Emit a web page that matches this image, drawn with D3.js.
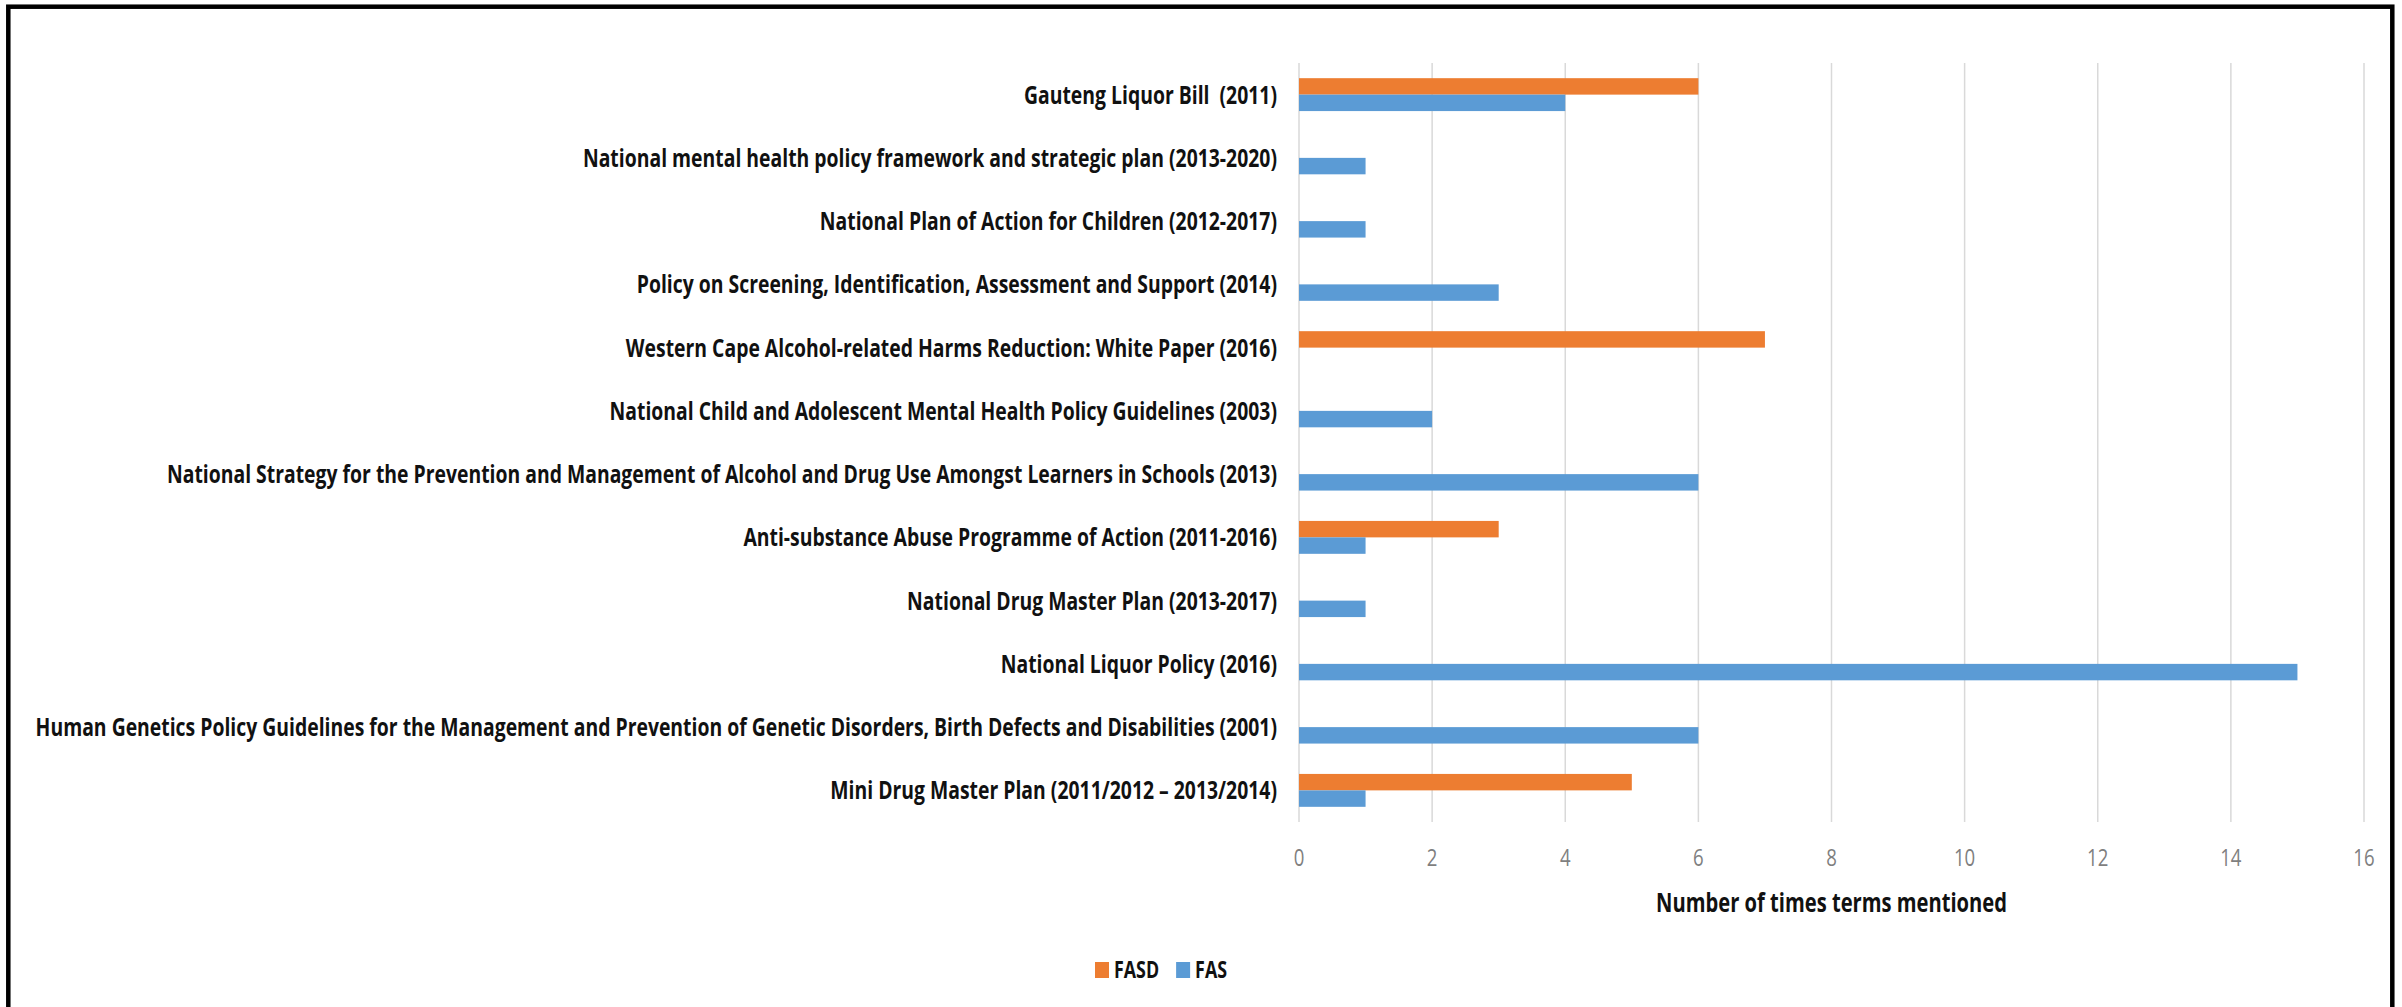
<!DOCTYPE html>
<html>
<head>
<meta charset="utf-8">
<script src="https://cdn.jsdelivr.net/npm/d3@7"></script>
<style>
  body { margin: 0; background: #fff; }
  text { font-family: "Open Sans", "Liberation Sans", sans-serif; white-space: pre; }
</style>
</head>
<body>
<script>
// categories, top to bottom
var categories = [
  "Gauteng Liquor Bill  (2011)",
  "National mental health policy framework and strategic plan (2013-2020)",
  "National Plan of Action for Children (2012-2017)",
  "Policy on Screening, Identification, Assessment and Support (2014)",
  "Western Cape Alcohol-related Harms Reduction: White Paper (2016)",
  "National Child and Adolescent Mental Health Policy Guidelines (2003)",
  "National Strategy for the Prevention and Management of Alcohol and Drug Use Amongst Learners in Schools (2013)",
  "Anti-substance Abuse Programme of Action (2011-2016)",
  "National Drug Master Plan (2013-2017)",
  "National Liquor Policy (2016)",
  "Human Genetics Policy Guidelines for the Management and Prevention of Genetic Disorders, Birth Defects and Disabilities (2001)",
  "Mini Drug Master Plan (2011/2012 \u2013 2013/2014)"
];
var fasdValues = [6, 0, 0, 0, 7, 0, 0, 3, 0, 0, 0, 5];
var fasValues  = [4, 1, 1, 3, 0, 2, 6, 1, 1, 15, 6, 1];
var seriesNames = ["FASD", "FAS"];
var seriesColors = ["#ED7D31", "#5B9BD5"];
var xTicks = [0, 2, 4, 6, 8, 10, 12, 14, 16];
var axisTitle = "Number of times terms mentioned";

var w = 2402, h = 1007;
var plotLeft = 1299, plotRight = 2364, plotTop = 63, plotBottom = 822;

var svg = d3.select("body").append("svg")
  .attr("width", w)
  .attr("height", h);

svg.append("rect").attr("width", w).attr("height", h).attr("fill", "#fff");

// frame (bottom edge falls outside the picture)
svg.append("rect")
  .attr("x", 8.3).attr("y", 6.7)
  .attr("width", 2384).attr("height", 1100)
  .attr("fill", "none")
  .attr("stroke", "#000")
  .attr("stroke-width", 4.5);

var x = d3.scaleLinear().domain([0, 16]).range([plotLeft, plotRight]);

var y0 = d3.scaleBand()
  .domain(categories)
  .range([plotTop, plotBottom])
  .paddingInner(0.48)
  .paddingOuter(0.24);

var y1 = d3.scaleBand()
  .domain(seriesNames)
  .range([0, y0.bandwidth()]);

// text is drawn narrower than the font, like the original
var measure = svg.append("text")
  .attr("font-size", 25).attr("font-weight", "bold")
  .text(categories[10]);
var condense = 1242 / measure.node().getComputedTextLength();
measure.remove();

// gridlines
svg.append("g").selectAll("line")
  .data(xTicks)
  .enter().append("line")
  .attr("x1", function(d) { return x(d); })
  .attr("x2", function(d) { return x(d); })
  .attr("y1", plotTop)
  .attr("y2", plotBottom)
  .attr("stroke", "#d9d9d9")
  .attr("stroke-width", 1.5);

// bars
var rows = categories.map(function(c, i) {
  return { cat: c, vals: [fasdValues[i], fasValues[i]] };
});

var groups = svg.append("g").selectAll("g")
  .data(rows)
  .enter().append("g")
  .attr("transform", function(d) { return "translate(0," + y0(d.cat) + ")"; });

groups.selectAll("rect")
  .data(function(d) {
    return d.vals.map(function(v, j) { return { key: seriesNames[j], value: v, color: seriesColors[j] }; })
      .filter(function(e) { return e.value > 0; });
  })
  .enter().append("rect")
  .attr("x", x(0))
  .attr("y", function(d) { return y1(d.key); })
  .attr("width", function(d) { return x(d.value) - x(0); })
  .attr("height", y1.bandwidth())
  .attr("fill", function(d) { return d.color; });

// category labels
svg.append("g").selectAll("text")
  .data(categories)
  .enter().append("text")
  .attr("transform", function(d) {
    return "translate(1277," + (y0(d) + y0.bandwidth() / 2) + ") scale(" + condense + ",1)";
  })
  .attr("text-anchor", "end")
  .attr("dy", "0.36em")
  .attr("font-size", 25)
  .attr("font-weight", "bold")
  .attr("fill", "#111")
  .text(function(d) { return d; });

// tick labels
svg.append("g").selectAll("text")
  .data(xTicks)
  .enter().append("text")
  .attr("transform", function(d) { return "translate(" + x(d) + ",857) scale(" + condense + ",1)"; })
  .attr("text-anchor", "middle")
  .attr("dy", "0.36em")
  .attr("font-size", 24)
  .attr("fill", "#7f7f7f")
  .text(function(d) { return d; });

// axis title
svg.append("text")
  .attr("transform", "translate(" + ((plotLeft + plotRight) / 2) + ",903) scale(" + condense + ",1)")
  .attr("text-anchor", "middle")
  .attr("dy", "0.36em")
  .attr("font-size", 26)
  .attr("font-weight", "bold")
  .attr("fill", "#111")
  .text(axisTitle);

// legend
var legend = svg.append("g").attr("transform", "translate(1095,970)");
var lx = 0;
seriesNames.forEach(function(name, i) {
  legend.append("rect")
    .attr("x", lx).attr("y", -8)
    .attr("width", 14).attr("height", 16)
    .attr("fill", seriesColors[i]);
  var t = legend.append("text")
    .attr("transform", "translate(" + (lx + 19) + ",0) scale(" + condense + ",1)")
    .attr("dy", "0.36em")
    .attr("font-size", 23)
    .attr("font-weight", "bold")
    .attr("fill", "#111")
    .text(name);
  lx += 19 + t.node().getComputedTextLength() * condense + 17;
});
</script>
</body>
</html>
